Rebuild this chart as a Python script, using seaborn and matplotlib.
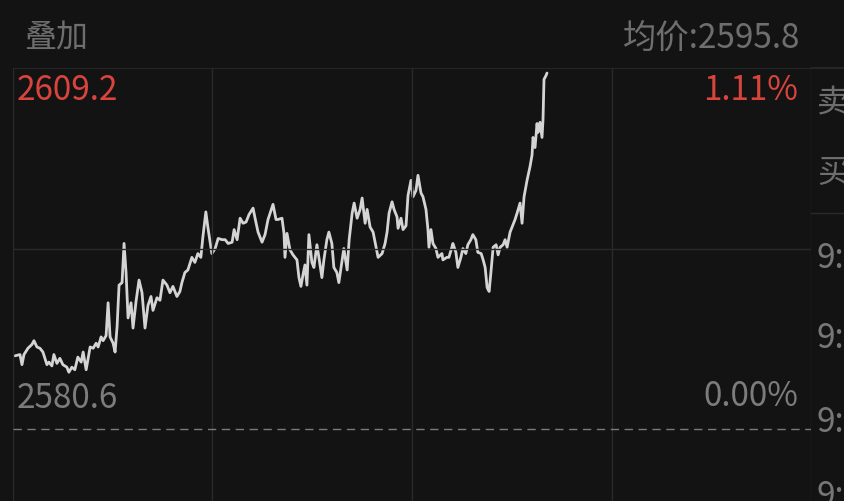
import numpy as np
import pandas as pd
import seaborn as sns
from matplotlib import pyplot as plt

# 分时数据 (分钟, 价格)
minutes = [0.6, 2.1, 2.7, 3.3, 4.5, 5.7, 6.3, 7.2, 8.1, 9.0, 10.2, 10.8, 11.7, 12.3, 13.2, 14.1, 15.0,
           16.2, 16.8, 17.7, 18.6, 19.5, 20.5, 21.1, 22.0, 22.6, 23.2, 24.1, 25.0, 25.6, 26.5, 27.1,
           28.0, 28.6, 29.2, 30.1, 30.7, 31.3, 31.9, 32.8, 33.4, 34.0, 34.6, 35.5, 36.1, 37.0, 37.9,
           38.8, 39.7, 40.6, 41.5, 42.1, 43.3, 44.2, 45.1, 46.3, 47.2, 48.1, 49.3, 50.2, 50.8, 51.7,
           52.6, 53.8, 54.7, 55.6, 56.5, 57.1, 58.0, 58.6, 59.8, 60.8, 61.7, 62.9, 63.8, 64.7, 65.9,
           66.5, 67.4, 68.3, 69.2, 70.1, 71.0, 72.2, 72.8, 73.7, 74.9, 75.8, 76.7, 78.2, 79.1, 79.7,
           80.9, 81.5, 81.8, 82.4, 83.3, 84.2, 85.4, 86.0, 86.6, 87.2, 87.8, 88.4, 89.0, 89.9, 90.5,
           91.4, 92.0, 92.9, 93.5, 94.4, 95.0, 95.9, 96.5, 97.4, 98.0, 98.9, 99.5, 100.5, 101.1,
           102.0, 102.6, 103.5, 104.4, 105.0, 105.9, 106.5, 107.4, 108.3, 109.2, 109.8, 111.0,
           111.9, 112.5, 113.1, 114.0, 114.6, 115.5, 115.8, 116.7, 117.3, 118.2, 118.8, 119.7,
           120.3, 121.2, 121.8, 122.7, 123.3, 124.2, 124.8, 125.1, 125.7, 126.3, 127.2, 127.8,
           129.0, 129.3, 130.5, 131.1, 132.0, 132.3, 133.2, 133.8, 134.7, 135.3, 136.2, 136.8,
           137.7, 138.3, 139.2, 139.8, 140.8, 141.4, 142.0, 142.6, 143.2, 143.8, 144.4, 145.3,
           145.9, 146.5, 147.4, 148.0, 148.6, 149.5, 150.4, 151.0, 151.6, 152.5, 153.1, 153.7,
           154.6, 155.5, 156.1, 156.4, 157.0, 157.6, 157.9, 158.5, 159.1, 159.4, 159.7, 160.3, 160.6]

prices = [2586.4, 2586.5, 2585.7, 2586.5, 2587.0, 2587.3, 2587.6, 2587.1, 2587.0, 2586.7, 2585.7,
          2585.9, 2585.6, 2586.5, 2585.8, 2586.2, 2585.7, 2585.5, 2585.1, 2585.5, 2585.3, 2586.3,
          2585.9, 2586.7, 2585.3, 2586.2, 2587.1, 2587.0, 2587.4, 2587.1, 2587.9, 2587.6, 2588.0,
          2590.6, 2587.9, 2587.4, 2586.7, 2588.7, 2592.0, 2592.2, 2595.3, 2593.0, 2589.4, 2590.6,
          2588.6, 2590.7, 2592.4, 2591.4, 2588.6, 2590.4, 2591.1, 2590.0, 2591.0, 2590.8, 2592.4,
          2592.0, 2591.4, 2591.9, 2591.1, 2591.5, 2592.2, 2593.0, 2593.2, 2594.2, 2593.8, 2594.5,
          2594.2, 2595.8, 2597.8, 2596.6, 2594.5, 2594.9, 2595.7, 2595.6, 2595.6, 2595.3, 2595.4,
          2596.4, 2595.6, 2597.3, 2596.9, 2597.0, 2597.6, 2598.1, 2597.3, 2596.2, 2595.4, 2596.0,
          2597.2, 2598.4, 2597.2, 2597.2, 2597.3, 2596.1, 2594.2, 2596.1, 2594.8, 2594.4, 2594.0,
          2592.6, 2591.9, 2592.8, 2593.6, 2592.0, 2596.0, 2593.8, 2593.4, 2595.2, 2594.2, 2592.6,
          2594.0, 2595.6, 2596.2, 2595.3, 2593.4, 2593.0, 2592.2, 2593.8, 2594.9, 2593.2, 2595.6,
          2597.7, 2598.5, 2597.3, 2598.0, 2598.9, 2596.9, 2598.0, 2596.6, 2596.2, 2595.0, 2594.2,
          2594.5, 2595.3, 2596.2, 2597.7, 2598.6, 2598.0, 2597.4, 2596.5, 2597.3, 2596.4, 2596.7,
          2599.1, 2600.3, 2599.0, 2599.5, 2600.7, 2599.3, 2599.0, 2598.0, 2596.4, 2595.0, 2596.4,
          2595.3, 2594.9, 2594.2, 2594.5, 2594.0, 2594.2, 2594.2, 2595.0, 2595.3, 2594.6, 2593.4,
          2594.2, 2594.9, 2594.5, 2595.2, 2595.6, 2596.0, 2595.6, 2594.6, 2594.5, 2594.0, 2593.4,
          2591.8, 2591.5, 2593.2, 2595.0, 2595.2, 2594.4, 2595.0, 2595.2, 2595.6, 2595.0, 2596.2,
          2596.8, 2597.2, 2597.7, 2598.5, 2596.9, 2599.0, 2600.3, 2601.4, 2602.3, 2603.7, 2602.9,
          2604.8, 2604.1, 2604.9, 2603.7, 2605.1, 2608.3, 2608.6, 2608.8]

pre_close = 2580.6
high_label = "2609.2"
low_label = "2580.6"
pct_high = "1.11%"
pct_low = "0.00%"
avg_label = "均价:2595.8"
side_labels = ["卖", "买"]
time_labels = ["9:", "9:", "9:", "9:"]

bg = "#131313"
grid_c = "#2a2a2a"
red = "#d9443d"
grey = "#6e6e6e"

sns.set_style("dark")
plt.rcParams['font.family'] = ['Noto Sans CJK SC', 'DejaVu Sans']

W, H = 844, 501
fig = plt.figure(figsize=(W / 100, H / 100), dpi=100, facecolor=bg)


def fx(px):
    return px / W


def fy(py):
    return 1 - py / H


# 主图区域: x 13~811, y 68~501
ax = fig.add_axes([fx(13), 0, fx(811) - fx(13), fy(68)])
ax.set_facecolor(bg)
df = pd.DataFrame({"minute": minutes, "price": prices})
sns.lineplot(data=df, x="minute", y="price", ax=ax, color="#d4d4d4", lw=2.0, sort=False)

ax.set_xlim(0, 240)
ax.set_ylim(2574.9, 2609.2)
for s in ax.spines.values():
    s.set_visible(False)
ax.set_xticks([])
ax.set_yticks([])
ax.set_xlabel("")
ax.set_ylabel("")
for m in [0, 60, 120, 180, 240]:
    ax.axvline(m, color=grid_c, lw=1)
ax.axhline(2609.2, color=grid_c, lw=1.2)
ax.axhline((2609.2 + pre_close) / 2, color=grid_c, lw=1)
ax.axhline(pre_close, color="#7a7a7a", lw=1, ls=(0, (6, 4)))

# 文字
fs = 24
fig.text(fx(24), fy(38), "叠加", color=grey, fontsize=fs - 1, va="center", ha="left")
fig.text(fx(800), fy(38), avg_label, color=grey, fontsize=fs, va="center", ha="right")
fig.text(fx(17), fy(90), high_label, color=red, fontsize=fs, va="center", ha="left")
fig.text(fx(798), fy(90), pct_high, color=red, fontsize=fs, va="center", ha="right")
fig.text(fx(17), fy(399), low_label, color="#7c7c7c", fontsize=fs, va="center", ha="left")
fig.text(fx(798), fy(397), pct_low, color="#7c7c7c", fontsize=fs, va="center", ha="right")

# 右侧盘口 (文字在画面右缘被截断, 与原图一致)
fig.add_artist(plt.Line2D([fx(811), fx(844)], [fy(68), fy(68)], color=grid_c, lw=1.2))
fig.add_artist(plt.Line2D([fx(811), fx(844)], [fy(213), fy(213)], color=grid_c, lw=1))
for lab, py in zip(side_labels, [103, 173]):
    fig.text(fx(817), fy(py), lab, color=grey, fontsize=fs - 1, va="center", ha="left")
for lab, py in zip(time_labels, [258, 338, 422, 497]):
    fig.text(fx(817), fy(py), lab, color="#777777", fontsize=fs, va="center", ha="left")

fig.savefig("out.png", dpi=100, facecolor=bg)
